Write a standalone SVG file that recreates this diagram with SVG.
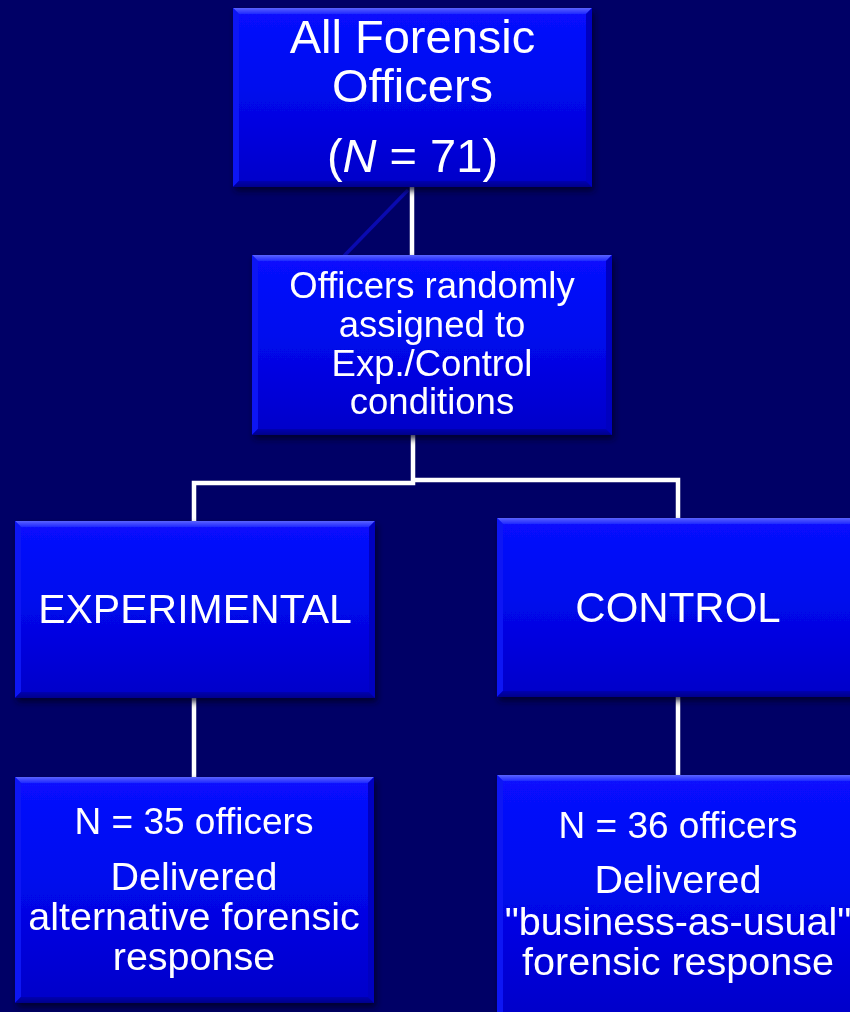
<svg xmlns="http://www.w3.org/2000/svg" width="850" height="1012" viewBox="0 0 850 1012">
<defs>
<linearGradient id="fillG" x1="0" y1="0" x2="0" y2="1">
<stop offset="0" stop-color="#0812FF"/>
<stop offset="0.45" stop-color="#0008EE"/>
<stop offset="1" stop-color="#0000C8"/>
</linearGradient>
<linearGradient id="topG" x1="0" y1="0" x2="0" y2="1">
<stop offset="0" stop-color="#5A62FF"/>
<stop offset="1" stop-color="#1E28FF"/>
</linearGradient>
<linearGradient id="botG" x1="0" y1="0" x2="0" y2="1">
<stop offset="0" stop-color="#0000B0"/>
<stop offset="1" stop-color="#00008A"/>
</linearGradient>
<filter id="sh" x="-10%" y="-10%" width="120%" height="125%">
<feDropShadow dx="2" dy="4" stdDeviation="3" flood-color="#000020" flood-opacity="0.8"/>
</filter>
</defs>
<style>
.bg{fill:#000066}
.box{fill:url(#fillG)}
.bt{fill:url(#topG)}
.bl{fill:#1018F4}
.br{fill:#0000C0}
.bb{fill:url(#botG)}
.c{stroke:#FFFFFF;stroke-width:4.5;fill:none}
.d{stroke:#0A0AB0;stroke-width:3.5;fill:none}
text{font-family:"Liberation Sans",Arial,sans-serif;fill:#FFFFFF;text-anchor:middle}
</style>
<rect class="bg" x="0" y="0" width="850" height="1012"/>

<g id="connectors">
<line class="d" x1="408" y1="190" x2="344" y2="256"/>
<line class="c" x1="412" y1="187" x2="412" y2="256"/>
<polyline class="c" points="413,435 413,483 194,483 194,522"/>
<polyline class="c" points="413,480 678,480 678,518"/>
<line class="c" x1="194" y1="697" x2="194" y2="778"/>
<line class="c" x1="678" y1="696" x2="678" y2="776"/>
</g>

<g id="node-all" filter="url(#sh)">
<rect class="box" x="233" y="8" width="359" height="179"/>
<polygon class="bt" points="233,8 592,8 586,14 239,14"/>
<polygon class="bl" points="233,8 239,14 239,181 233,187"/>
<polygon class="br" points="592,8 592,187 586,181 586,14"/>
<polygon class="bb" points="233,187 239,181 586,181 592,187"/>
<text x="412.5" y="53" font-size="47">All Forensic</text>
<text x="412.5" y="102" font-size="47">Officers</text>
<text x="412.5" y="172" font-size="47">(<tspan font-style="italic">N</tspan> = 71)</text>
</g>

<g id="node-assign" filter="url(#sh)">
<rect class="box" x="252" y="255" width="360" height="180"/>
<polygon class="bt" points="252,255 612,255 606,261 258,261"/>
<polygon class="bl" points="252,255 258,261 258,429 252,435"/>
<polygon class="br" points="612,255 612,435 606,429 606,261"/>
<polygon class="bb" points="252,435 258,429 606,429 612,435"/>
<text x="432" y="298" font-size="36.5">Officers randomly</text>
<text x="432" y="337" font-size="36.5">assigned to</text>
<text x="432" y="376" font-size="36.5">Exp./Control</text>
<text x="432" y="414" font-size="36.5">conditions</text>
</g>

<g id="node-experimental" filter="url(#sh)">
<rect class="box" x="15" y="521" width="360" height="177"/>
<polygon class="bt" points="15,521 375,521 369,527 21,527"/>
<polygon class="bl" points="15,521 21,527 21,692 15,698"/>
<polygon class="br" points="375,521 375,698 369,692 369,527"/>
<polygon class="bb" points="15,698 21,692 369,692 375,698"/>
<text x="195" y="623" font-size="41">EXPERIMENTAL</text>
</g>

<g id="node-control" filter="url(#sh)">
<rect class="box" x="497" y="518" width="370" height="179"/>
<polygon class="bt" points="497,518 867,518 861,524 503,524"/>
<polygon class="bl" points="497,518 503,524 503,691 497,697"/>
<polygon class="bb" points="497,697 503,691 861,691 867,697"/>
<text x="678" y="622" font-size="42">CONTROL</text>
</g>

<g id="node-exp-detail" filter="url(#sh)">
<rect class="box" x="15" y="777" width="359" height="226"/>
<polygon class="bt" points="15,777 374,777 368,783 21,783"/>
<polygon class="bl" points="15,777 21,783 21,997 15,1003"/>
<polygon class="br" points="374,777 374,1003 368,997 368,783"/>
<polygon class="bb" points="15,1003 21,997 368,997 374,1003"/>
<text x="194" y="834" font-size="37">N = 35 officers</text>
<text x="194" y="890" font-size="39.5">Delivered</text>
<text x="194" y="930" font-size="39.5">alternative forensic</text>
<text x="194" y="970" font-size="39.5">response</text>
</g>

<g id="node-ctrl-detail" filter="url(#sh)">
<rect class="box" x="497" y="775" width="370" height="245"/>
<polygon class="bt" points="497,775 867,775 861,781 503,781"/>
<polygon class="bl" points="497,775 503,781 503,1020 497,1020"/>
<text x="678" y="838" font-size="37">N = 36 officers</text>
<text x="678" y="893" font-size="39.5">Delivered</text>
<text x="678" y="935" font-size="39.5">"business-as-usual"</text>
<text x="678" y="975" font-size="39.5">forensic response</text>
</g>
</svg>
